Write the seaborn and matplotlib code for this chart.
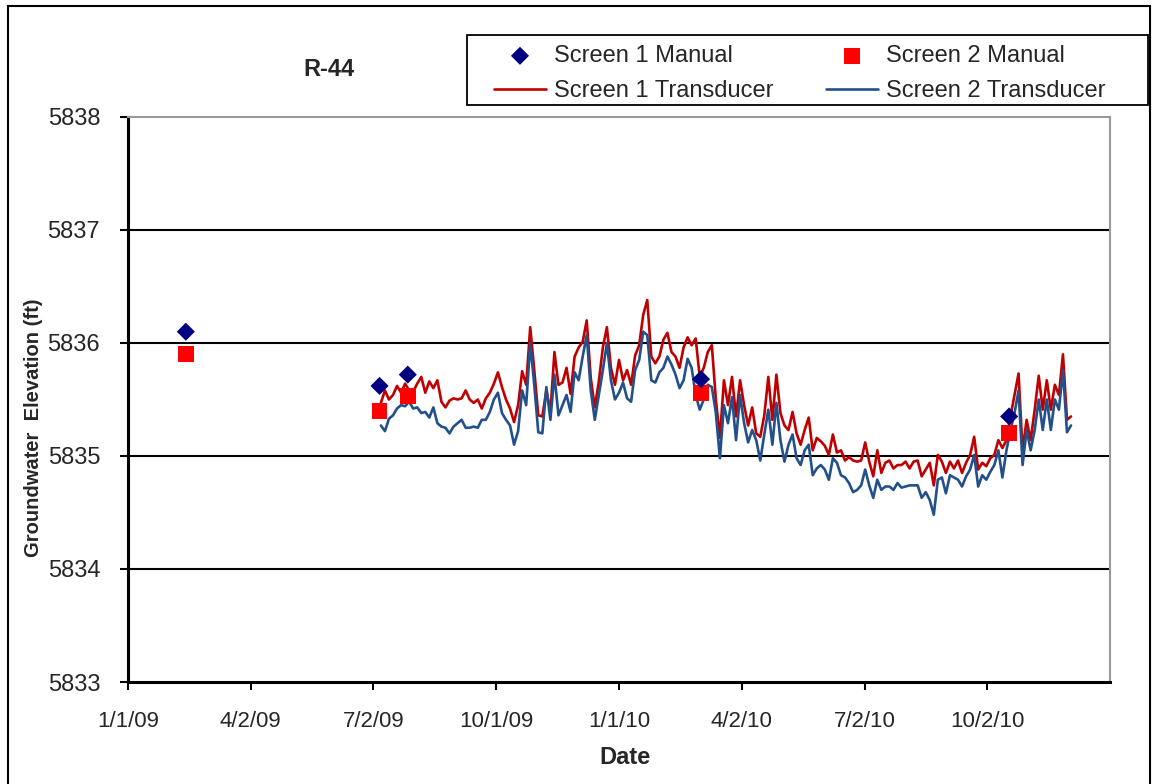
import numpy as np
import pandas as pd
import seaborn as sns
import matplotlib.pyplot as plt
import matplotlib.dates as mdates
from matplotlib.patches import Rectangle

# manual measurements
manual_dates = ["2009-02-13", "2009-07-07", "2009-07-28", "2010-03-03", "2010-10-18"]
screen1_manual = [5836.10, 5835.62, 5835.72, 5835.68, 5835.35]
screen2_manual = [5835.90, 5835.40, 5835.53, 5835.56, 5835.20]

# transducer records, one value every 3 days starting 7/8/09
transducer_start = "2009-07-08"
transducer_step_days = 3
screen1_transducer = [
    5835.47, 5835.58, 5835.50, 5835.54, 5835.62, 5835.56, 5835.64, 5835.58, 5835.57, 5835.64,
    5835.70, 5835.56, 5835.66, 5835.60, 5835.67, 5835.48, 5835.43, 5835.49, 5835.51, 5835.50,
    5835.51, 5835.58, 5835.50, 5835.47, 5835.50, 5835.42, 5835.51, 5835.56, 5835.64, 5835.74,
    5835.61, 5835.50, 5835.42, 5835.30, 5835.45, 5835.75, 5835.63, 5836.14, 5835.76, 5835.36,
    5835.35, 5835.58, 5835.39, 5835.92, 5835.63, 5835.65, 5835.78, 5835.55, 5835.88, 5835.96,
    5836.01, 5836.20, 5835.69, 5835.43, 5835.66, 5835.96, 5836.14, 5835.78, 5835.63, 5835.85,
    5835.67, 5835.76, 5835.63, 5835.89, 5835.98, 5836.25, 5836.38, 5835.88, 5835.82, 5835.88,
    5836.03, 5836.09, 5835.92, 5835.88, 5835.78, 5835.96, 5836.05, 5835.98, 5836.04, 5835.70,
    5835.78, 5835.92, 5835.98, 5835.50, 5835.16, 5835.67, 5835.45, 5835.70, 5835.35, 5835.67,
    5835.45, 5835.27, 5835.43, 5835.20, 5835.17, 5835.36, 5835.70, 5835.32, 5835.72, 5835.38,
    5835.27, 5835.23, 5835.39, 5835.20, 5835.10, 5835.23, 5835.34, 5835.05, 5835.16, 5835.13,
    5835.09, 5835.01, 5835.19, 5835.03, 5835.05, 5834.96, 5834.99, 5834.96, 5834.95, 5834.96,
    5835.12, 5834.95, 5834.82, 5835.05, 5834.85, 5834.94, 5834.96, 5834.89, 5834.92, 5834.92,
    5834.95, 5834.89, 5834.95, 5834.96, 5834.82, 5834.88, 5834.94, 5834.74, 5835.01, 5834.95,
    5834.85, 5834.95, 5834.89, 5834.96, 5834.85, 5834.94, 5835.01, 5835.17, 5834.88, 5834.94,
    5834.91, 5834.98, 5835.01, 5835.14, 5835.07, 5835.14, 5835.35, 5835.54, 5835.73, 5835.05,
    5835.32, 5835.14, 5835.41, 5835.71, 5835.41, 5835.67, 5835.41, 5835.63, 5835.54, 5835.90,
    5835.32, 5835.35,
]
screen2_transducer = [
    5835.27, 5835.22, 5835.33, 5835.36, 5835.42, 5835.45, 5835.44, 5835.48, 5835.42, 5835.43,
    5835.38, 5835.39, 5835.34, 5835.43, 5835.29, 5835.26, 5835.25, 5835.20, 5835.26, 5835.29,
    5835.32, 5835.25, 5835.25, 5835.26, 5835.25, 5835.32, 5835.32, 5835.39, 5835.50, 5835.56,
    5835.38, 5835.32, 5835.27, 5835.10, 5835.22, 5835.58, 5835.45, 5836.00, 5835.63, 5835.21,
    5835.20, 5835.61, 5835.32, 5835.72, 5835.36, 5835.45, 5835.54, 5835.39, 5835.74, 5835.67,
    5835.88, 5836.07, 5835.58, 5835.32, 5835.54, 5835.76, 5836.00, 5835.67, 5835.50, 5835.56,
    5835.65, 5835.51, 5835.48, 5835.76, 5835.85, 5836.10, 5836.07, 5835.67, 5835.65, 5835.74,
    5835.78, 5835.88, 5835.81, 5835.72, 5835.60, 5835.67, 5835.86, 5835.78, 5835.54, 5835.41,
    5835.50, 5835.63, 5835.61, 5835.38, 5834.98, 5835.45, 5835.29, 5835.52, 5835.14, 5835.54,
    5835.29, 5835.12, 5835.23, 5835.14, 5834.96, 5835.19, 5835.41, 5835.10, 5835.47, 5835.14,
    5834.95, 5835.10, 5835.19, 5834.98, 5834.92, 5835.05, 5835.10, 5834.83, 5834.89, 5834.92,
    5834.88, 5834.79, 5834.98, 5834.94, 5834.83, 5834.81, 5834.76, 5834.68, 5834.70, 5834.74,
    5834.88, 5834.74, 5834.63, 5834.79, 5834.70, 5834.73, 5834.73, 5834.70, 5834.76, 5834.72,
    5834.73, 5834.74, 5834.74, 5834.74, 5834.63, 5834.68, 5834.61, 5834.48, 5834.79, 5834.81,
    5834.67, 5834.83, 5834.81, 5834.79, 5834.73, 5834.82, 5834.88, 5835.01, 5834.73, 5834.83,
    5834.79, 5834.86, 5834.92, 5835.05, 5834.81, 5835.05, 5835.23, 5835.38, 5835.58, 5834.92,
    5835.23, 5835.05, 5835.23, 5835.50, 5835.23, 5835.50, 5835.23, 5835.50, 5835.41, 5835.76,
    5835.21, 5835.27,
]

tick_labels = ["1/1/09", "4/2/09", "7/2/09", "10/1/09", "1/1/10", "4/2/10", "7/2/10", "10/2/10"]

trans_dates = pd.date_range(transducer_start, periods=len(screen1_transducer),
                            freq=f"{transducer_step_days}D")
trans_df = pd.DataFrame({"date": trans_dates,
                         "s1": screen1_transducer,
                         "s2": screen2_transducer})
manual_df = pd.DataFrame({"date": pd.to_datetime(manual_dates),
                          "s1": screen1_manual,
                          "s2": screen2_manual})

sns.set_style("white")
plt.rcParams["font.family"] = ["Liberation Sans", "DejaVu Sans"]

fig = plt.figure(figsize=(11.54, 7.84), dpi=100)
ax = fig.add_axes([0.1109, 0.1301, 0.851, 0.7207])

red_line = "#C00000"
blue_line = "#23508A"

sns.lineplot(data=trans_df, x="date", y="s1", ax=ax, color=red_line, lw=1.9,
             label="Screen 1 Transducer", zorder=3)
sns.lineplot(data=trans_df, x="date", y="s2", ax=ax, color=blue_line, lw=1.9,
             label="Screen 2 Transducer", zorder=3)
sns.scatterplot(data=manual_df, x="date", y="s1", ax=ax, marker="D", s=85,
                color="#000080", edgecolor="none", label="Screen 1 Manual", zorder=5)
sns.scatterplot(data=manual_df, x="date", y="s2", ax=ax, marker="s", s=130,
                color="#FF0000", edgecolor="none", label="Screen 2 Manual", zorder=4)

# axis scales
x0 = mdates.date2num(pd.Timestamp("2009-01-01"))
ax.set_xlim(x0, x0 + 730)
ax.set_xticks([x0 + 91.25 * k for k in range(len(tick_labels))])
ax.set_xticklabels(tick_labels)
ax.set_ylim(5833, 5838)
ax.set_yticks(range(5833, 5839))
ax.set_yticklabels([str(v) for v in range(5833, 5839)])

for v in range(5834, 5838):
    ax.axhline(v, color="black", lw=1.5, zorder=1)

ax.spines["left"].set_linewidth(2.2)
ax.spines["bottom"].set_linewidth(2.2)
ax.spines["left"].set_color("black")
ax.spines["bottom"].set_color("black")
ax.spines["top"].set_color("#9a9a9a")
ax.spines["right"].set_color("#9a9a9a")
ax.spines["top"].set_linewidth(1.5)
ax.spines["right"].set_linewidth(1.5)

ax.tick_params(axis="both", direction="out", length=6, width=1.5, color="black",
               labelsize=17, left=True, bottom=True)
ax.tick_params(axis="y", pad=14)
ax.tick_params(axis="x", pad=15, labelsize=16)
ax.set_xlabel("")
ax.set_ylabel("")

fig.text(0.0286, 0.454, "Groundwater  Elevation (ft)", rotation=90, ha="center",
         va="center", fontsize=14.5, fontweight="bold")
fig.text(0.5416, 0.034, "Date", ha="center", va="center", fontsize=17, fontweight="bold")
fig.text(0.285, 0.911, "R-44", ha="center", va="center", fontsize=17, fontweight="bold")

handles, labels = ax.get_legend_handles_labels()
order = ["Screen 1 Manual", "Screen 1 Transducer", "Screen 2 Manual", "Screen 2 Transducer"]
hmap = dict(zip(labels, handles))
ax.legend([hmap[k] for k in order], order, ncol=2, loc="upper left",
          bbox_to_anchor=(494 / 1154, 1 - 45 / 784), bbox_transform=fig.transFigure,
          frameon=False, fontsize=17, borderpad=0, borderaxespad=0,
          handlelength=2.2, columnspacing=2.2, labelspacing=0.55,
          handletextpad=0.35)

# legend box and outer chart border
fig.patches.append(Rectangle((467 / 1154, 1 - 105 / 784), 681 / 1154, 70 / 784,
                             transform=fig.transFigure, fill=False,
                             edgecolor="black", lw=1.3))
fig.patches.append(Rectangle((8 / 1154, -0.01), 1142 / 1154, 1 - 6 / 784 + 0.01,
                             transform=fig.transFigure, fill=False,
                             edgecolor="black", lw=1.5))

fig.savefig("out.png", dpi=100)
plt.close(fig)
